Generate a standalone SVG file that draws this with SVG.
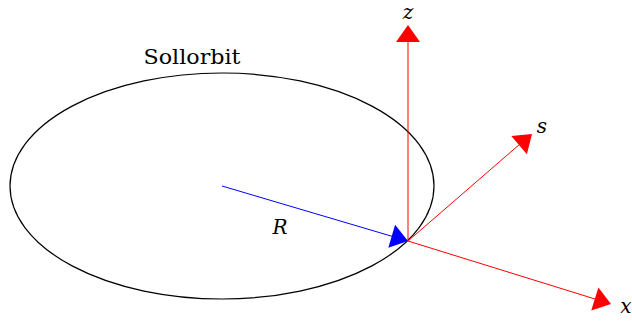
<svg xmlns="http://www.w3.org/2000/svg" width="632" height="323" viewBox="0 0 632 323">
<style>
.ax{stroke:#ff0000;stroke-width:1;fill:none}
.ah{fill:#ff0000;stroke:none}
text{font-family:'DejaVu Serif','Liberation Serif',serif;fill:#000}
.m{font-style:italic;font-size:20px}
.t{font-size:20px}
</style>
<rect width="632" height="323" fill="#fff"/>
<g id="orbit">
<ellipse cx="222" cy="186" rx="212" ry="113" fill="none" stroke="#000" stroke-width="1.2"/>
<text class="t" x="192" y="64" text-anchor="middle" textLength="97" lengthAdjust="spacingAndGlyphs">Sollorbit</text>
</g>
<g id="connectors">
<line x1="222" y1="186" x2="393" y2="236.6" stroke="#0000ff" stroke-width="1"/>
<polygon points="408,241 388.3,247.7 395.1,224.7" fill="#0000ff"/>
<line class="ax" x1="408" y1="241" x2="408" y2="40"/>
<polygon class="ah" points="408,25 396,42 420,42"/>
<line class="ax" x1="408" y1="241" x2="520" y2="144"/>
<polygon class="ah" points="532,134 526.9,154.2 511.3,136"/>
<line class="ax" x1="408" y1="241" x2="596" y2="299.3"/>
<polygon class="ah" points="611,304 591.2,310.4 598.4,287.5"/>
</g>
<g id="labels">
<text class="m" x="408" y="19" text-anchor="middle">z</text>
<text class="m" x="542" y="133" text-anchor="middle">s</text>
<text class="m" x="626" y="313" text-anchor="middle">x</text>
<text class="m" x="280" y="234" text-anchor="middle">R</text>
</g>
</svg>
